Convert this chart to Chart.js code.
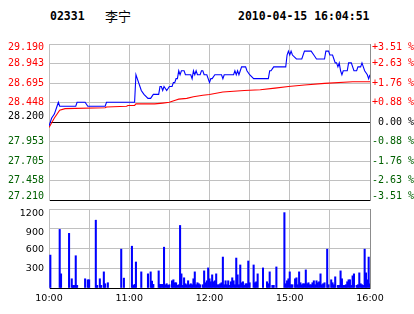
<!DOCTYPE html>
<html><head><meta charset="utf-8">
<script src="https://cdn.jsdelivr.net/npm/chart.js@4/dist/chart.umd.min.js"></script>
<style>
html,body{margin:0;padding:0;background:#fff;}
#wrap{position:relative;width:414px;height:314px;overflow:hidden;background:#fff;}
canvas{position:absolute;left:0;top:0;}
.hd{position:absolute;font-family:"DejaVu Sans Mono",monospace;font-weight:bold;font-size:11.5px;line-height:1;color:#000;white-space:pre;}
.cn{position:absolute;font-family:"Noto Sans CJK SC",sans-serif;font-size:13px;line-height:1;color:#000;white-space:pre;}
</style></head><body>
<div id="wrap">
<div id="hCode" class="hd" style="left:50px;top:11px"></div>
<div id="hName" class="cn" style="left:105px;top:8.5px"></div>
<div id="hTime" class="hd" style="left:238px;top:11px"></div>
<canvas id="pc" width="414" height="212" style="width:414px;height:212px"></canvas>
<canvas id="vc" width="414" height="314" style="width:414px;height:314px"></canvas>
</div>
<script>
const stockCode = '02331';
const stockName = '李宁';
const stampText = '2010-04-15 16:04:51';

const priceTicks = [27.210, 27.458, 27.705, 27.953, 28.200, 28.448, 28.695, 28.943, 29.190];
const priceTickLabels = ['27.210','27.458','27.705','27.953','28.200','28.448','28.695','28.943','29.190'];
const pctTickLabels = ['-3.51 %','-2.63 %','-1.76 %','-0.88 %',' 0.00 %','+0.88 %','+1.76 %','+2.63 %','+3.51 %'];
const timeTickMinutes = [0,30,60,90,120,150,180,210,240];
const timeTickLabels = ['10:00','','11:00','','12:00','','15:00','','16:00'];
const volTicks = [0,300,600,900,1200];
const volTickLabels = ['','300','600','900','1200'];

const priceMinutes = [0,2,4,6,7,8,20,21,27,29,42,43,64,65,66,67,68,69,71,74,76,78,82,83,84,85,86,88,90,92,93,94,95,96,97,98,99,101,102,106,107,108,109,110,111,113,114,115,116,118,119,120,121,122,124,129,130,131,138,139,140,141,142,143,144,147,148,150,153,164,165,166,168,177,178,179,180,181,182,185,189,191,196,198,200,206,207,209,210,212,213,214,215,216,217,218,219,220,223,224,226,228,230,231,233,234,235,236,238,239,240];
const priceValues = [28.15,28.25,28.30,28.40,28.45,28.40,28.40,28.45,28.45,28.40,28.40,28.45,28.45,28.80,28.75,28.70,28.65,28.60,28.55,28.50,28.50,28.55,28.55,28.65,28.65,28.60,28.65,28.60,28.65,28.65,28.70,28.70,28.75,28.75,28.85,28.80,28.85,28.85,28.80,28.80,28.75,28.85,28.80,28.85,28.80,28.80,28.85,28.85,28.80,28.80,28.75,28.70,28.75,28.75,28.80,28.80,28.75,28.80,28.80,28.85,28.80,28.85,28.80,28.85,28.90,28.90,28.85,28.80,28.75,28.75,28.85,28.85,28.90,28.90,29.05,29.10,29.05,29.10,29.05,29.00,29.00,29.10,29.10,29.05,29.00,29.00,29.10,29.10,29.05,29.05,29.00,28.95,28.95,28.90,28.95,28.85,28.80,28.85,28.85,28.95,28.95,28.85,28.85,28.90,28.90,28.95,28.90,28.85,28.80,28.75,28.80];

const avgMinutes = [0,4,8,12,42,43,58,59,64,65,79,85,90,95,97,103,108,115,120,130,138,146,158,169,179,191,206,227,240];
const avgValues = [28.13,28.25,28.35,28.37,28.38,28.39,28.40,28.41,28.41,28.43,28.43,28.44,28.45,28.48,28.49,28.50,28.52,28.54,28.55,28.58,28.59,28.60,28.61,28.63,28.65,28.67,28.69,28.71,28.71];

const volMinutes = [1,8,9,15,17,18,19,20,21,27,29,30,35,36,38,39,41,42,44,54,56,62,63,64,65,69,74,76,77,78,82,83,84,85,86,87,88,89,90,92,93,94,95,96,97,98,99,100,101,102,103,104,105,106,107,108,109,110,111,112,113,115,116,117,118,119,120,121,122,123,124,125,126,127,128,129,130,131,132,133,134,135,136,137,138,139,140,141,142,143,144,145,146,147,148,149,150,153,154,155,156,160,163,164,165,167,168,170,176,177,178,179,180,181,182,184,185,186,187,188,189,190,191,192,193,194,195,196,197,198,199,200,201,202,203,204,205,206,208,209,211,212,213,214,216,217,218,219,220,221,222,223,224,225,226,227,228,230,231,232,233,234,235,236,237,238,239,240];
const volValues = [500,890,215,830,140,40,40,490,40,140,125,125,1030,40,140,40,245,65,80,590,150,635,40,55,395,245,215,245,105,55,260,55,55,55,620,50,65,40,50,110,125,80,80,40,50,950,215,40,155,65,50,110,50,65,50,140,245,50,80,65,50,50,260,80,110,305,140,95,200,95,110,215,50,50,65,80,470,50,110,50,110,40,95,155,110,50,455,200,50,350,80,95,40,65,65,410,80,350,80,95,215,305,95,65,245,40,40,320,1145,65,110,140,245,50,50,140,155,50,245,80,50,65,65,275,65,80,50,50,80,110,50,110,80,95,215,50,65,80,590,50,125,80,50,170,40,40,260,140,40,40,50,95,125,125,40,185,215,40,50,230,65,50,40,590,230,125,470,65];

document.getElementById('hCode').textContent = stockCode;
document.getElementById('hName').textContent = stockName;
document.getElementById('hTime').textContent = stampText;

const gridGrey = '#c0c0c0';
const edgeGrey = '#8c8c8c';
const upRed = '#ff0000';
const downGreen = '#006000';
const monoFont = 'DejaVu Sans Mono';

// vertical shift (px) of a few tick labels, like the reference
function shiftLabel(text, s) {
  if (s > 0) return ['', text];
  if (s < 0) return [text, ''];
  return text;
}
function lineH(s) { return s === 0 ? 1.2 : (2 * Math.abs(s)) + 'px'; }
const leftShift = {0: -3.5, 4: -6, 8: 3};
const rightShift = {0: -3.5, 8: 3};
const volShift = {2: 1, 3: 3.5, 4: 4.5};
function sideColor(i) { return i > 4 ? upRed : (i === 4 ? '#000' : downGreen); }

new Chart(document.getElementById('pc'), {
  type: 'line',
  data: {
    datasets: [
      { data: priceMinutes.map((m, i) => ({x: m, y: priceValues[i]})), borderColor: '#0000ff', borderWidth: 1.1, pointRadius: 0, tension: 0, fill: false, yAxisID: 'y' },
      { data: avgMinutes.map((m, i) => ({x: m, y: avgValues[i]})), borderColor: upRed, borderWidth: 1.1, pointRadius: 0, tension: 0, fill: false, yAxisID: 'y' }
    ]
  },
  options: {
    responsive: false, animation: false, devicePixelRatio: 1,
    plugins: { legend: { display: false }, tooltip: { enabled: false } },
    layout: { padding: { top: 44, bottom: 9, left: 0, right: 0 } },
    scales: {
      x: {
        type: 'linear', min: 0, max: 240,
        afterBuildTicks: s => { s.ticks = timeTickMinutes.map(v => ({value: v})); },
        ticks: { display: false },
        grid: { color: gridGrey, drawTicks: false },
        border: { display: false },
        afterFit: s => { s.height = 0; }
      },
      y: {
        position: 'left', min: 27.21, max: 29.19,
        afterBuildTicks: s => { s.ticks = priceTicks.map(v => ({value: v})); },
        ticks: {
          autoSkip: false, padding: 5,
          callback: (v, i) => shiftLabel(priceTickLabels[i], leftShift[i] || 0),
          color: ctx => sideColor(ctx.index),
          font: ctx => ({ family: monoFont, size: 10, lineHeight: lineH(leftShift[ctx.index] || 0) })
        },
        grid: { color: ctx => (ctx.index === 0 || ctx.index === 4) ? '#000' : gridGrey, drawTicks: false },
        border: { color: gridGrey },
        afterFit: s => { s.width = 49; }
      },
      y2: {
        position: 'right', min: 27.21, max: 29.19,
        afterBuildTicks: s => { s.ticks = priceTicks.map(v => ({value: v})); },
        ticks: {
          autoSkip: false, padding: 2,
          callback: (v, i) => shiftLabel(pctTickLabels[i], rightShift[i] || 0),
          color: ctx => sideColor(ctx.index),
          font: ctx => ({ family: monoFont, size: 10, lineHeight: lineH(rightShift[ctx.index] || 0) })
        },
        grid: { display: false, drawTicks: false },
        border: { color: edgeGrey },
        afterFit: s => { s.width = 44; }
      }
    }
  }
});

new Chart(document.getElementById('vc'), {
  type: 'bar',
  data: {
    datasets: [
      { data: volMinutes.map((m, i) => ({x: m, y: volValues[i]})), backgroundColor: '#0000ff', borderWidth: 0, barThickness: 1.4, grouped: false }
    ]
  },
  options: {
    responsive: false, animation: false, devicePixelRatio: 1,
    plugins: { legend: { display: false }, tooltip: { enabled: false } },
    layout: { padding: { top: 209, bottom: 0, left: 0, right: 0 } },
    scales: {
      x: {
        type: 'linear', min: 0, max: 240, offset: false,
        afterBuildTicks: s => { s.ticks = timeTickMinutes.map(v => ({value: v})); },
        ticks: {
          autoSkip: false, maxRotation: 0, padding: 5, color: '#000',
          font: { family: 'DejaVu Sans', size: 9.5 },
          callback: (v, i) => timeTickLabels[i]
        },
        grid: { color: gridGrey, drawTicks: false, offset: false },
        border: { color: '#000' },
        afterFit: s => { s.height = 26; }
      },
      y: {
        position: 'left', min: 0, max: 1200,
        afterBuildTicks: s => { s.ticks = volTicks.map(v => ({value: v})); },
        ticks: {
          autoSkip: false, padding: 5, color: '#000',
          callback: (v, i) => shiftLabel(volTickLabels[i], volShift[i] || 0),
          font: ctx => ({ family: 'DejaVu Sans', size: 9.5, lineHeight: lineH(volShift[ctx.index] || 0) })
        },
        grid: { color: ctx => ctx.index === 0 ? '#000' : gridGrey, drawTicks: false },
        border: { color: gridGrey },
        afterFit: s => { s.width = 49; }
      },
      y2: {
        position: 'right', min: 0, max: 1200,
        ticks: { display: false },
        grid: { display: false, drawTicks: false },
        border: { color: edgeGrey },
        afterFit: s => { s.width = 44; }
      }
    }
  }
});
</script>
</body></html>
